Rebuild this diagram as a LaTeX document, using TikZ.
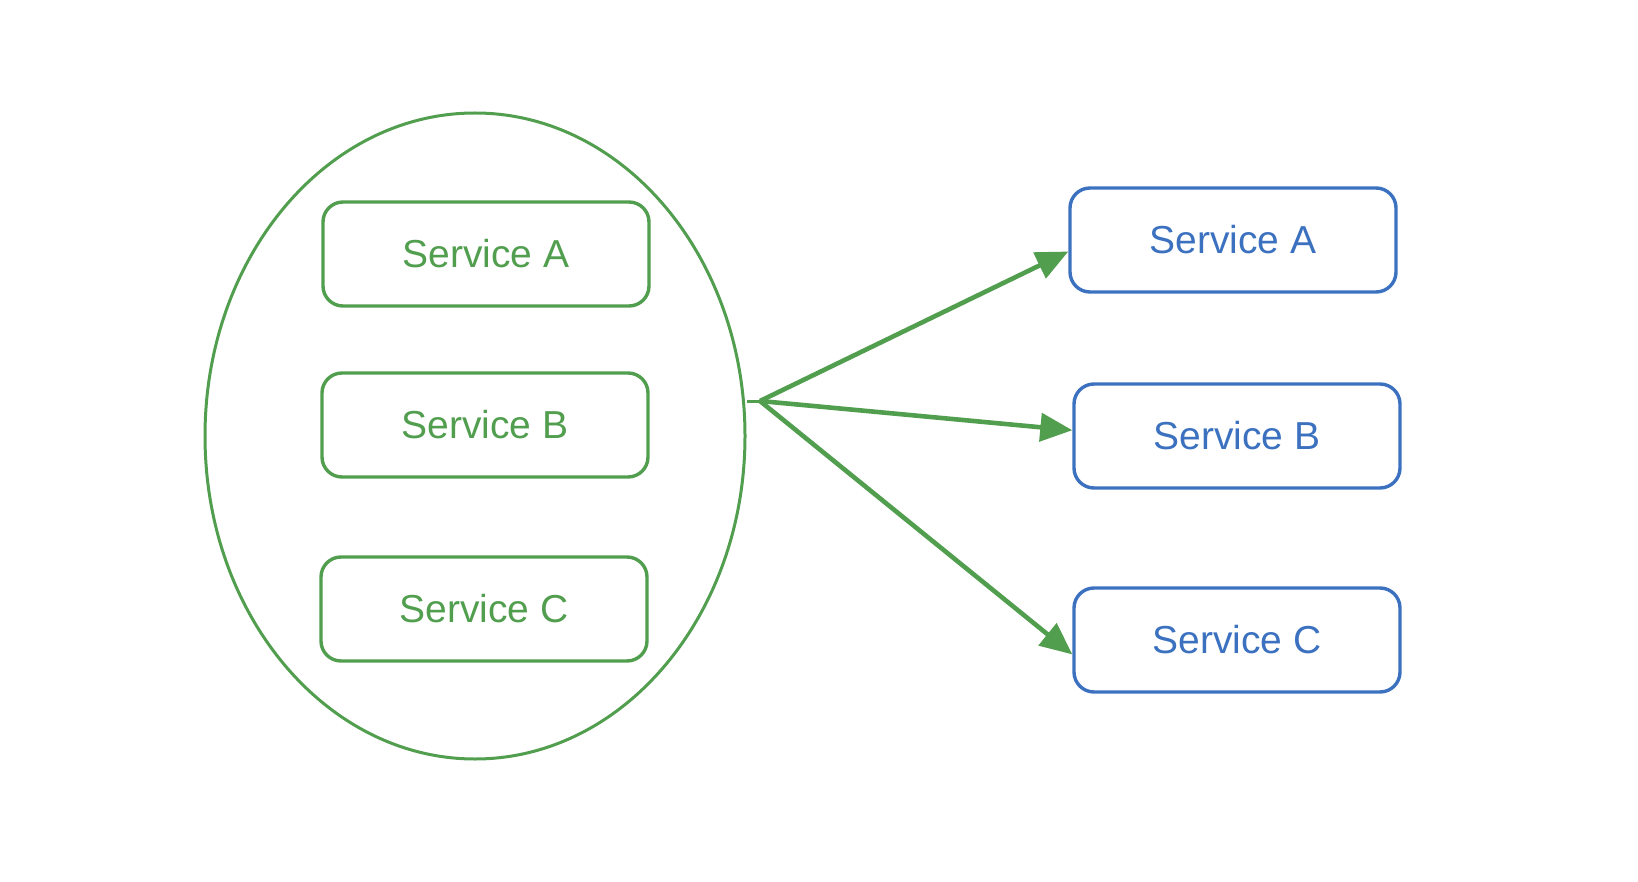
\documentclass[tikz,border=0pt]{standalone}
\usepackage{fontspec}
\setmainfont{Liberation Sans}
\usetikzlibrary{positioning,arrows.meta,shapes.geometric}
\definecolor{grn}{HTML}{529E4F}
\definecolor{blu}{HTML}{3B71BF}

\begin{document}
\begin{tikzpicture}[x=1pt,y=-1pt,
  svc/.style={draw,line width=3.4pt,rounded corners=20pt,minimum width=326pt,
              minimum height=104pt,inner sep=0pt,font=\fontsize{39}{46}\selectfont},
  old/.style={svc,draw=grn,text=grn},
  new/.style={svc,draw=blu,text=blu},
  ar/.style={-{Triangle[length=32pt,width=28pt]},color=grn,line width=4.6pt}]
  \useasboundingbox (0,0) rectangle (1638,882);
  \node[ellipse,draw=grn,line width=3pt,minimum width=540pt,minimum height=646pt,
        inner sep=0pt] (pool) at (475,436) {};
  \foreach \n/\x/\y in {A/486/254,B/485/425,C/484/609}
    \node[old] (l\n) at (\x,\y) {Service \n};
  \foreach \n/\x/\y in {A/1233/240,B/1237/436,C/1237/640}
    \node[new] (r\n) at (\x,\y) {Service \n};

  \coordinate (hub) at (760,401);
  \draw[grn,line width=3pt] (pool.east |- hub) -- (hub);
  \draw[ar] (hub) -- (rA.184);
  \draw[ar] (hub) -- (rB.178);
  \draw[ar] (hub) -- (rC.185);
\end{tikzpicture}
\end{document}
